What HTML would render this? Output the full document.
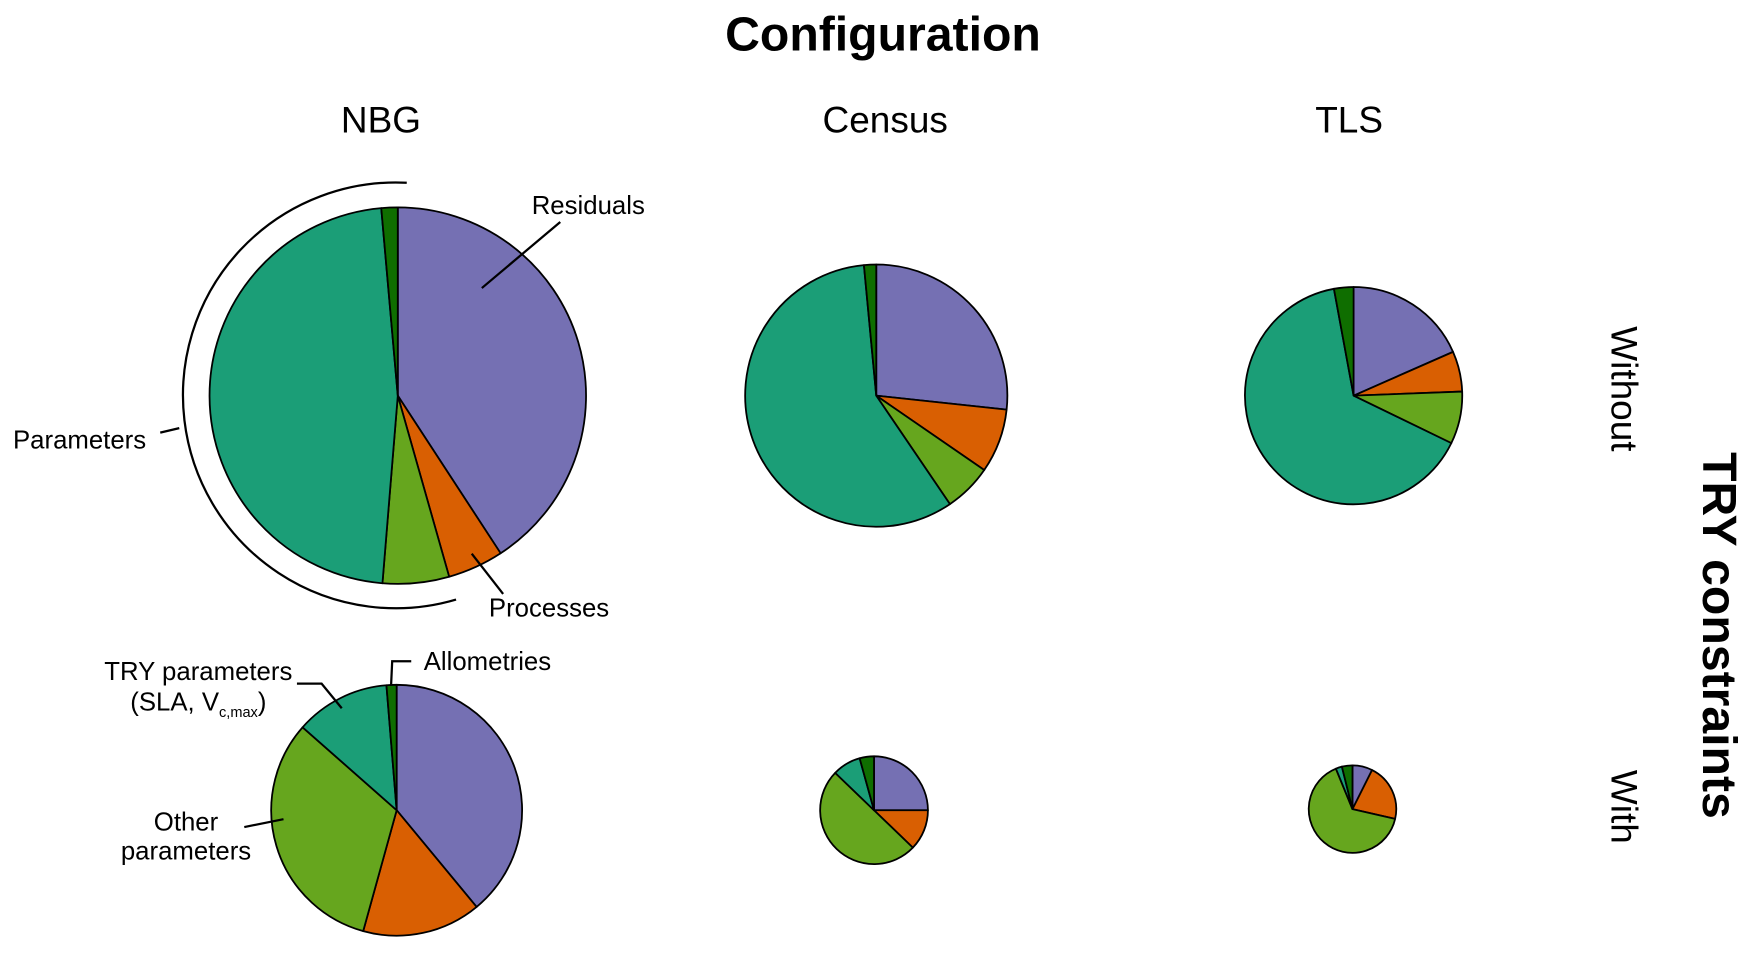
<!DOCTYPE html>
<html><head><meta charset="utf-8"><style>
html,body{margin:0;padding:0;background:#fff;}
svg{display:block;font-family:"Liberation Sans",sans-serif;}
</style></head><body>
<svg id="chart" width="1757" height="956" viewBox="0 0 1568 853">
<text x="788" y="45" text-anchor="middle" font-size="43" font-weight="bold">Configuration</text>
<text x="340" y="118" text-anchor="middle" font-size="33">NBG</text>
<text x="790" y="118" text-anchor="middle" font-size="33">Census</text>
<text x="1204" y="118" text-anchor="middle" font-size="33">TLS</text>
<text transform="translate(1438,347) rotate(90)" text-anchor="middle" font-size="33">Without</text>
<text transform="translate(1438,720) rotate(90)" text-anchor="middle" font-size="33">With</text>
<text transform="translate(1520,567) rotate(90)" text-anchor="middle" font-size="43" font-weight="bold">TRY constraints</text>
<g id="pies"></g>
<g id="annot" fill="none" stroke="#000" stroke-width="2">
<path d="M363,163 A190,190 0 1 0 407,535"/>
<line x1="143" y1="386" x2="160" y2="382"/>
<line x1="430" y1="257" x2="500" y2="198"/>
<line x1="421" y1="494" x2="449" y2="530"/>
<polyline points="265,610 287,610 305,632"/>
<polyline points="367,590 350,590 349,612"/>
<line x1="218" y1="738" x2="253" y2="731"/>
</g>
<g font-size="23">
<text x="525" y="191" text-anchor="middle">Residuals</text>
<text x="490" y="550" text-anchor="middle">Processes</text>
<text x="71" y="400" text-anchor="middle">Parameters</text>
<text x="435" y="598" text-anchor="middle">Allometries</text>
<text x="177" y="607" text-anchor="middle">TRY parameters</text>
<text x="177" y="634" text-anchor="middle">(SLA, V<tspan font-size="13" dy="6">c,max</tspan><tspan dy="-6">)</tspan></text>
<text x="166" y="741" text-anchor="middle">Other</text>
<text x="166" y="767" text-anchor="middle">parameters</text>
</g>
</svg>
<script>
const categories = ['residuals','processes','other-parameters','try-parameters','allometries'];
const colors = ['#7570b3','#d95f02','#66a61e','#1b9e77','#0f6e00'];
const nbgWithout = [40.8, 4.8, 5.7, 47.3, 1.4];
const censusWithout = [26.7, 7.9, 5.9, 58.0, 1.5];
const tlsWithout = [18.4, 6.0, 7.8, 64.9, 2.9];
const nbgWith = [39.0, 15.3, 32.2, 12.2, 1.3];
const censusWith = [25.0, 12.2, 50.0, 8.5, 4.3];
const tlsWith = [7.4, 21.2, 65.2, 2.3, 3.9];
const totals = [100, 48.5, 33.3, 44.4, 8.2, 5.4];
const pieNames = ['nbg-without','census-without','tls-without','nbg-with','census-with','tls-with'];
const pieData = [nbgWithout, censusWithout, tlsWithout, nbgWith, censusWith, tlsWith];
const centers = [[355,353],[782,353],[1208,353],[354,723],[780,723],[1207,722]];
const rMax = 168;
const NS = 'http://www.w3.org/2000/svg';
const g = document.getElementById('pies');
function angle(frac){ return frac*2*Math.PI; }
pieData.forEach((vals, i) => {
  const [cx, cy] = centers[i];
  const r = rMax*Math.sqrt(totals[i]/100);
  const sum = vals.reduce((a,b)=>a+b,0);
  const grp = document.createElementNS(NS,'g');
  
  
  g.appendChild(grp);
  let acc = 0;
  vals.forEach((v, j) => {
    const a0 = angle(acc/sum), a1 = angle((acc+v)/sum);
    acc += v;
    const x0 = cx + r*Math.sin(a0), y0 = cy - r*Math.cos(a0);
    const x1 = cx + r*Math.sin(a1), y1 = cy - r*Math.cos(a1);
    const large = (a1-a0) > Math.PI ? 1 : 0;
    const p = document.createElementNS(NS,'path');
    p.setAttribute('d', `M${cx},${cy} L${x0},${y0} A${r},${r} 0 ${large} 1 ${x1},${y1} Z`);
    p.setAttribute('fill', colors[j]);
    p.setAttribute('stroke', '#000');
    p.setAttribute('stroke-width', '1.6');
    p.setAttribute('stroke-linejoin', 'round');
    
    
    grp.appendChild(p);
  });
});
</script>
</body></html>
